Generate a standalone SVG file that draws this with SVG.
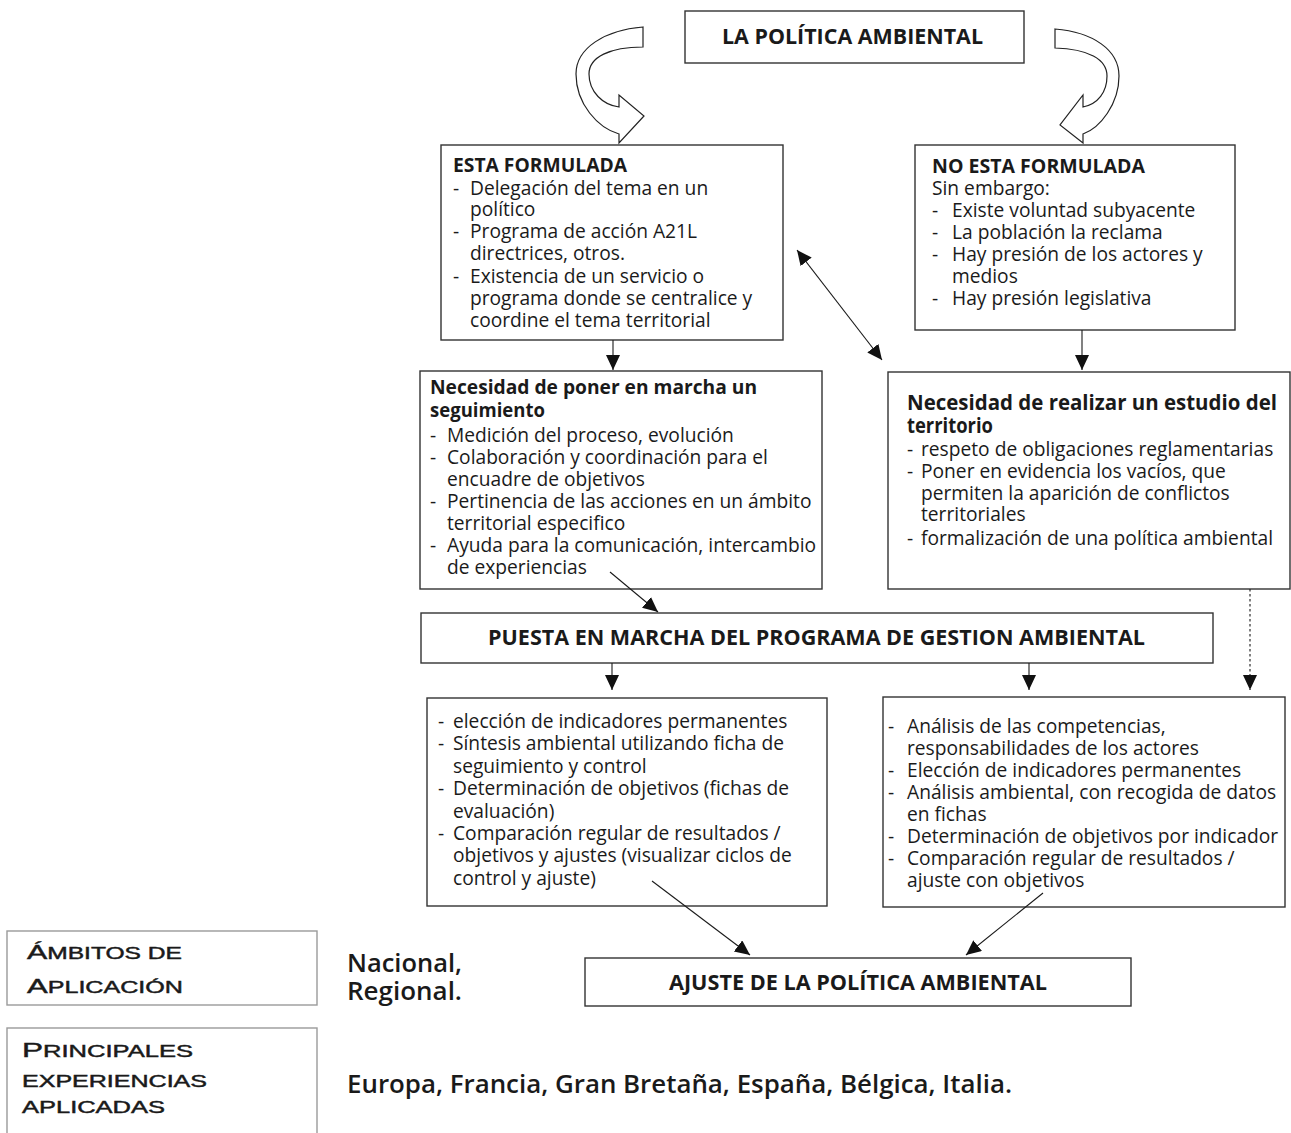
<svg xmlns="http://www.w3.org/2000/svg" width="1291" height="1133" viewBox="0 0 1291 1133">
<style>
.box{fill:#fff;stroke:#333;stroke-width:1.4}
.gbox{fill:#fff;stroke:#9a9a9a;stroke-width:1.4}
.t{font-family:"Open Sans","Noto Sans","Liberation Sans",sans-serif;font-size:19.2px;fill:#1a1a1a}
.b{font-family:"Open Sans","Noto Sans","Liberation Sans",sans-serif;font-weight:700;fill:#1a1a1a}
.sb{font-family:"Open Sans","Noto Sans","Liberation Sans",sans-serif;font-weight:600;font-size:25px;fill:#1a1a1a}
.sc{font-family:"Liberation Sans","Arial",sans-serif;fill:#1a1a1a;stroke:#1a1a1a;stroke-width:0.45}
.ln{stroke:#1a1a1a;stroke-width:1.1;fill:none}
.cv{fill:#fff;stroke:#222;stroke-width:1.2}
</style>
<defs>
<marker id="ah" markerUnits="userSpaceOnUse" markerWidth="16" markerHeight="16" refX="15" refY="7" orient="auto-start-reverse">
<path d="M0,0 L15,7 L0,14 Z" fill="#111"/>
</marker>
</defs>

<g id="n-top">
<rect class="box" x="685" y="11" width="339" height="52"/>
<text class="b" x="722" y="44" font-size="22" textLength="261" lengthAdjust="spacingAndGlyphs">LA POLÍTICA AMBIENTAL</text>
</g>

<g id="curved-arrows">
<path class="cv" d="M643,27 C605,30 576,48 576,74 C576,104 598,128 619,134 L619,143 L644,116 L619,95 L619,107 C603,105 589,92 589,74 C589,57 610,47 643,47 Z"/>
<path class="cv" d="M1055,29 C1093,32 1119,50 1119,76 C1119,104 1100,128 1083,134 L1083,143 L1060,125 L1083,95 L1083,107 C1098,104 1107,92 1107,76 C1107,59 1088,49 1055,48 Z"/>
</g>

<g id="n-formulada">
<rect class="box" x="441" y="145" width="342" height="195"/>
<text class="b" x="453" y="172" font-size="19" textLength="174" lengthAdjust="spacingAndGlyphs">ESTA FORMULADA</text>
<text class="t"><tspan x="453" y="195">- </tspan><tspan x="470">Delegación del tema en un</tspan><tspan x="470" y="216">político</tspan><tspan x="453" y="238">- </tspan><tspan x="470">Programa de acción A21L</tspan><tspan x="470" y="260">directrices, otros.</tspan><tspan x="453" y="283">- </tspan><tspan x="470">Existencia de un servicio o</tspan><tspan x="470" y="305">programa donde se centralice y</tspan><tspan x="470" y="327">coordine el tema territorial</tspan></text>
</g>

<g id="n-noformulada">
<rect class="box" x="915" y="145" width="320" height="185"/>
<text class="b" x="932" y="173" font-size="19" textLength="213" lengthAdjust="spacingAndGlyphs">NO ESTA FORMULADA</text>
<text class="t"><tspan x="932" y="195">Sin embargo:</tspan><tspan x="932" y="217">- </tspan><tspan x="952">Existe voluntad subyacente</tspan><tspan x="932" y="239">- </tspan><tspan x="952">La población la reclama</tspan><tspan x="932" y="261">- </tspan><tspan x="952">Hay presión de los actores y</tspan><tspan x="952" y="283">medios</tspan><tspan x="932" y="305">- </tspan><tspan x="952">Hay presión legislativa</tspan></text>
</g>

<g id="n-seguimiento">
<rect class="box" x="420" y="371" width="402" height="218"/>
<text class="b" x="430" y="394" font-size="20" textLength="327" lengthAdjust="spacingAndGlyphs">Necesidad de poner en marcha un</text>
<text class="b" x="430" y="417" font-size="20" textLength="115" lengthAdjust="spacingAndGlyphs">seguimiento</text>
<text class="t"><tspan x="430" y="442">- </tspan><tspan x="447">Medición del proceso, evolución</tspan><tspan x="430" y="464">- </tspan><tspan x="447">Colaboración y coordinación para el</tspan><tspan x="447" y="486">encuadre de objetivos</tspan><tspan x="430" y="508">- </tspan><tspan x="447">Pertinencia de las acciones en un ámbito</tspan><tspan x="447" y="530">territorial especifico</tspan><tspan x="430" y="552">- </tspan><tspan x="447">Ayuda para la comunicación, intercambio</tspan><tspan x="447" y="574">de experiencias</tspan></text>
</g>

<g id="n-estudio">
<rect class="box" x="888" y="372" width="402" height="217"/>
<text class="b" x="907" y="410" font-size="21" textLength="370" lengthAdjust="spacingAndGlyphs">Necesidad de realizar un estudio del</text>
<text class="b" x="907" y="433" font-size="21" textLength="86" lengthAdjust="spacingAndGlyphs">territorio</text>
<text class="t"><tspan x="907" y="456">- </tspan><tspan x="921">respeto de obligaciones reglamentarias</tspan><tspan x="907" y="478">- </tspan><tspan x="921">Poner en evidencia los vacíos, que</tspan><tspan x="921" y="500">permiten la aparición de conflictos</tspan><tspan x="921" y="521">territoriales</tspan><tspan x="907" y="545">- </tspan><tspan x="921">formalización de una política ambiental</tspan></text>
</g>

<g id="n-puesta">
<rect class="box" x="421" y="613" width="792" height="50"/>
<text class="b" x="488" y="645" font-size="21" textLength="657" lengthAdjust="spacingAndGlyphs">PUESTA EN MARCHA DEL PROGRAMA DE GESTION AMBIENTAL</text>
</g>

<g id="n-indicadores">
<rect class="box" x="427" y="698" width="400" height="208"/>
<text class="t"><tspan x="438" y="728">- </tspan><tspan x="453">elección de indicadores permanentes</tspan><tspan x="438" y="750">- </tspan><tspan x="453">Síntesis ambiental utilizando ficha de</tspan><tspan x="453" y="773">seguimiento y control</tspan><tspan x="438" y="795">- </tspan><tspan x="453">Determinación de objetivos (fichas de</tspan><tspan x="453" y="818">evaluación)</tspan><tspan x="438" y="840">- </tspan><tspan x="453">Comparación regular de resultados /</tspan><tspan x="453" y="862">objetivos y ajustes (visualizar ciclos de</tspan><tspan x="453" y="885">control y ajuste)</tspan></text>
</g>

<g id="n-analisis">
<rect class="box" x="883" y="697" width="402" height="210"/>
<text class="t"><tspan x="888" y="733">- </tspan><tspan x="907">Análisis de las competencias,</tspan><tspan x="907" y="755">responsabilidades de los actores</tspan><tspan x="888" y="777">- </tspan><tspan x="907">Elección de indicadores permanentes</tspan><tspan x="888" y="799">- </tspan><tspan x="907">Análisis ambiental, con recogida de datos</tspan><tspan x="907" y="821">en fichas</tspan><tspan x="888" y="843">- </tspan><tspan x="907">Determinación de objetivos por indicador</tspan><tspan x="888" y="865">- </tspan><tspan x="907">Comparación regular de resultados /</tspan><tspan x="907" y="887">ajuste con objetivos</tspan></text>
</g>

<g id="n-ajuste">
<rect class="box" x="585" y="958" width="546" height="48"/>
<text class="b" x="669" y="990" font-size="22" textLength="378" lengthAdjust="spacingAndGlyphs">AJUSTE DE LA POLÍTICA AMBIENTAL</text>
</g>

<g id="n-ambitos">
<rect class="gbox" x="7" y="931" width="310" height="74"/>
<text class="sc" x="27" y="959" textLength="155" lengthAdjust="spacingAndGlyphs"><tspan font-size="21">Á</tspan><tspan font-size="17">MBITOS DE</tspan></text>
<text class="sc" x="27" y="993" textLength="156" lengthAdjust="spacingAndGlyphs"><tspan font-size="21">A</tspan><tspan font-size="17">PLICACIÓN</tspan></text>
</g>

<g id="n-experiencias">
<rect class="gbox" x="7" y="1028" width="310" height="120"/>
<text class="sc" x="22" y="1057" textLength="171" lengthAdjust="spacingAndGlyphs"><tspan font-size="21">P</tspan><tspan font-size="17">RINCIPALES</tspan></text>
<text class="sc" x="22" y="1087" font-size="17" textLength="185" lengthAdjust="spacingAndGlyphs">EXPERIENCIAS</text>
<text class="sc" x="22" y="1113" font-size="17" textLength="143" lengthAdjust="spacingAndGlyphs">APLICADAS</text>
</g>

<g id="n-valores">
<text class="sb" x="347" y="972" textLength="115" lengthAdjust="spacingAndGlyphs">Nacional,</text>
<text class="sb" x="347" y="1000" textLength="115" lengthAdjust="spacingAndGlyphs">Regional.</text>
<text class="sb" x="347" y="1093" textLength="665" lengthAdjust="spacingAndGlyphs">Europa, Francia, Gran Bretaña, España, Bélgica, Italia.</text>
</g>

<g id="connectors">
<line class="ln" x1="797" y1="250" x2="882" y2="360" marker-start="url(#ah)" marker-end="url(#ah)"/>
<line class="ln" x1="613" y1="340" x2="613" y2="370" marker-end="url(#ah)"/>
<line class="ln" x1="1082" y1="330" x2="1082" y2="370" marker-end="url(#ah)"/>
<line class="ln" x1="610" y1="572" x2="658" y2="612" marker-end="url(#ah)"/>
<line class="ln" x1="1250" y1="589" x2="1250" y2="690" stroke-dasharray="2.5,2.5" marker-end="url(#ah)"/>
<line class="ln" x1="612" y1="663" x2="612" y2="690" marker-end="url(#ah)"/>
<line class="ln" x1="1029" y1="663" x2="1029" y2="690" marker-end="url(#ah)"/>
<line class="ln" x1="652" y1="881" x2="750" y2="955" marker-end="url(#ah)"/>
<line class="ln" x1="1043" y1="893" x2="966" y2="955" marker-end="url(#ah)"/>
</g>
</svg>
